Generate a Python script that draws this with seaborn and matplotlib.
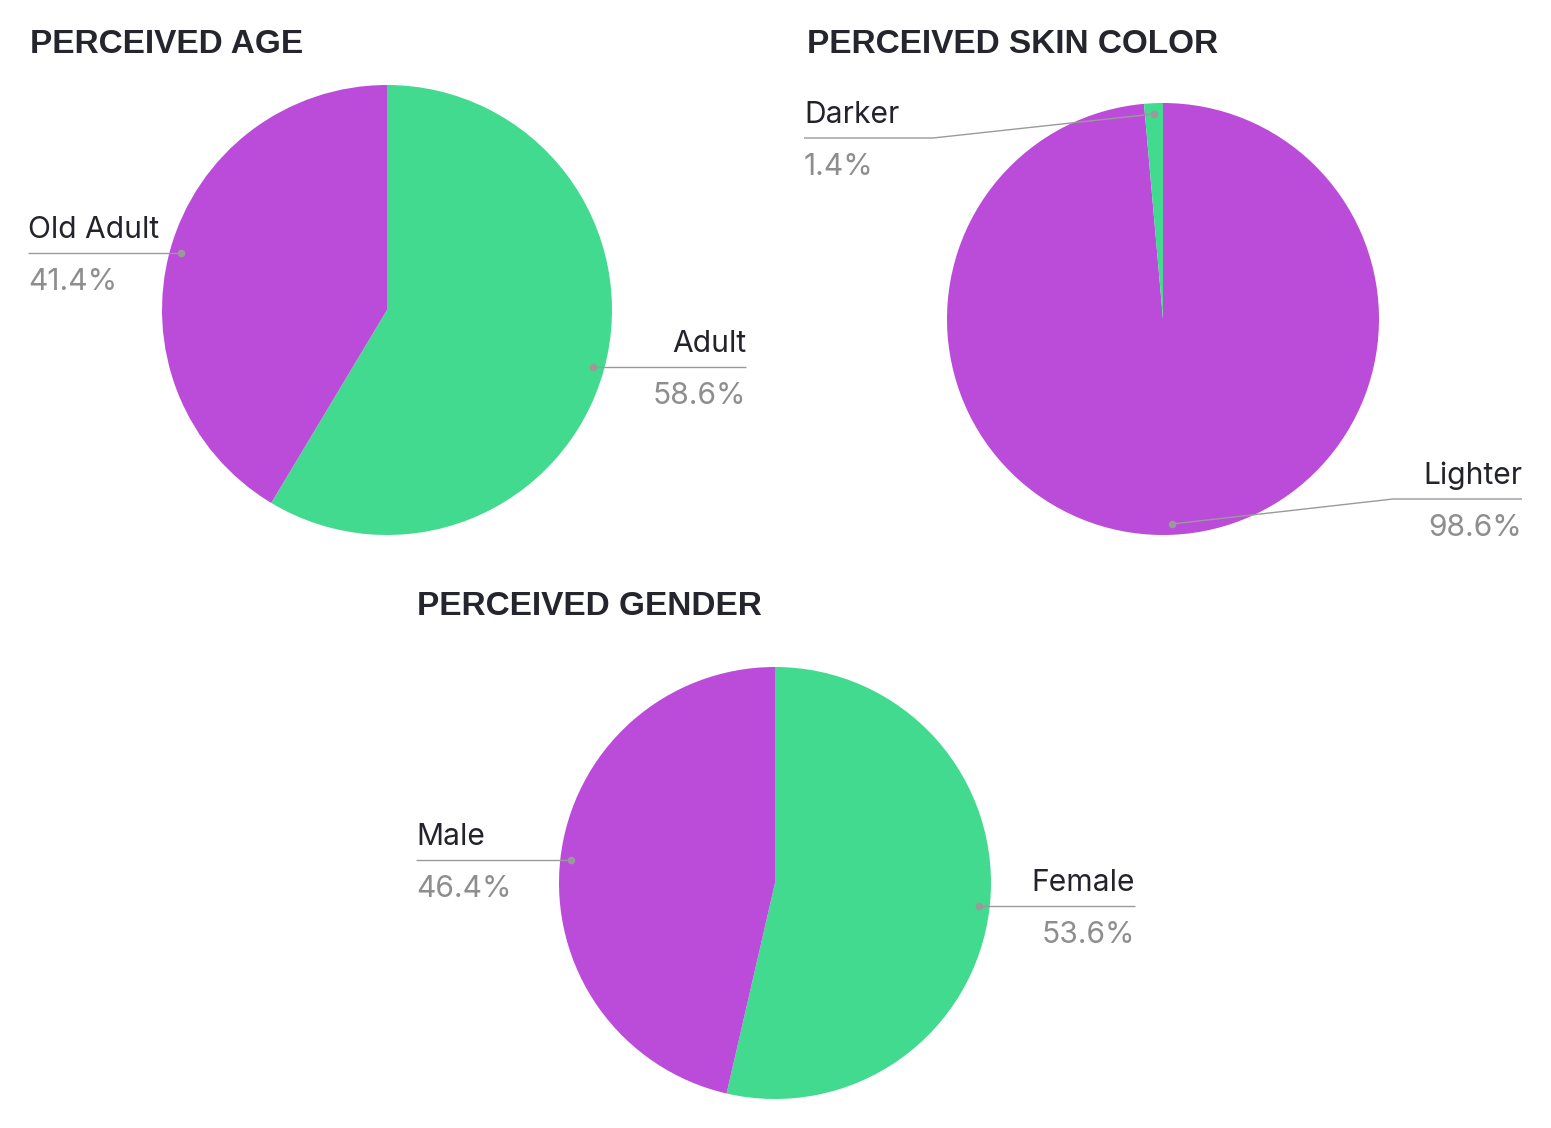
import matplotlib
matplotlib.use("Agg")
import matplotlib.pyplot as plt
import seaborn as sns
import numpy as np

# ---------------- data ----------------
age_labels = ["Adult", "Old Adult"]
age_values = [58.6, 41.4]
skin_labels = ["Lighter", "Darker"]
skin_values = [98.6, 1.4]
gender_labels = ["Female", "Male"]
gender_values = [53.6, 46.4]
titles = ["PERCEIVED AGE", "PERCEIVED SKIN COLOR", "PERCEIVED GENDER"]
GREEN, PURPLE = "#42DA8E", "#BB4CD9"
age_colors = [GREEN, PURPLE]
skin_colors = [PURPLE, GREEN]
gender_colors = [GREEN, PURPLE]

# ---------------- style ----------------
sns.set_theme(style="white")
plt.rcParams['font.family'] = ['Inter', 'DejaVu Sans']

TITLE_C = "#25252D"
LABEL_C = "#23232B"
PCT_C = "#8E8E8E"
LINE_C = "#9A9A9A"

W, H = 1551, 1128
fig = plt.figure(figsize=(W / 100, H / 100), dpi=100)
fig.patch.set_facecolor("white")

# layout (pixels): centre, radius, title pos, annotation placement
layout = [
    dict(cx=387, cy=310, r=225, tx=30, ty=53,
         ann=[dict(side="right", x_end=746, elbow=None, line_y=None),
              dict(side="left", x_end=28, elbow=None, line_y=None)]),
    dict(cx=1163, cy=319, r=216, tx=807, ty=53,
         ann=[dict(side="right", x_end=1522, elbow=1393, line_y=499),
              dict(side="left", x_end=804, elbow=933, line_y=138)]),
    dict(cx=775, cy=883, r=216, tx=417, ty=615,
         ann=[dict(side="right", x_end=1135, elbow=None, line_y=None),
              dict(side="left", x_end=416, elbow=None, line_y=None)]),
]
datasets = [(age_labels, age_values, age_colors),
            (skin_labels, skin_values, skin_colors),
            (gender_labels, gender_values, gender_colors)]

overlay = fig.add_axes([0, 0, 1, 1], zorder=5)
overlay.set_xlim(0, W)
overlay.set_ylim(H, 0)
overlay.axis("off")
overlay.patch.set_alpha(0)

for title, (labels, values, cols), lay in zip(titles, datasets, layout):
    cx, cy, r = lay["cx"], lay["cy"], lay["r"]
    ax = fig.add_axes([(cx - r) / W, (H - cy - r) / H, 2 * r / W, 2 * r / H], zorder=1)
    wedges, _ = ax.pie(values, colors=cols, startangle=90, counterclock=False,
                       radius=1, wedgeprops=dict(linewidth=0))
    ax.set_xlim(-1, 1)
    ax.set_ylim(-1, 1)
    ax.set_aspect("equal")
    ax.axis("off")

    overlay.text(lay["tx"], lay["ty"], title, fontsize=24, fontweight="bold",
                 family=["Liberation Sans", "DejaVu Sans"],
                 color=TITLE_C, ha="left", va="baseline")

    for w, lab, val, a in zip(wedges, labels, values, lay["ann"]):
        mid = np.deg2rad((w.theta1 + w.theta2) / 2)
        dx = cx + 0.95 * r * np.cos(mid)
        dy = cy - 0.95 * r * np.sin(mid)
        if a["elbow"] is None:
            ly = dy
            xs, ys = [dx, a["x_end"]], [dy, ly]
        else:
            ly = a["line_y"]
            xs, ys = [dx, a["elbow"], a["x_end"]], [dy, ly, ly]
        overlay.plot(xs, ys, color=LINE_C, lw=1.0, solid_capstyle="butt")
        overlay.plot([dx], [dy], "o", color=LINE_C, ms=5.5, mew=0)
        ha = "right" if a["side"] == "right" else "left"
        overlay.text(a["x_end"], ly - 15, lab, fontsize=21.6, color=LABEL_C,
                     ha=ha, va="baseline")
        overlay.text(a["x_end"], ly + 37, f"{val:.1f}%", fontsize=21.6, color=PCT_C,
                     ha=ha, va="baseline")

fig.savefig("out.png", dpi=100, facecolor="white")
